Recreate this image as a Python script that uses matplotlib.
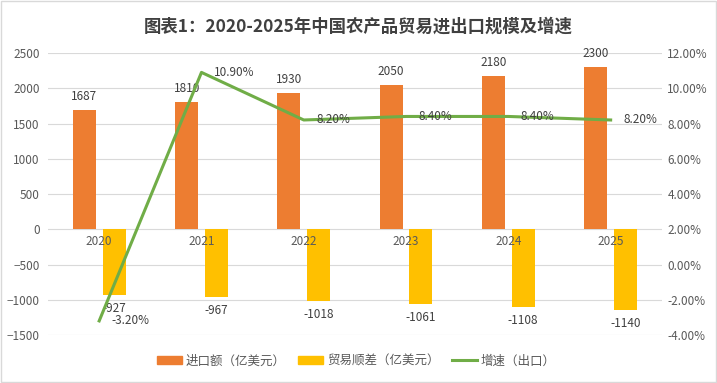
import numpy as np
import matplotlib
matplotlib.use("Agg")
import matplotlib.pyplot as plt
from matplotlib.patches import Rectangle
from matplotlib.lines import Line2D
from matplotlib.patches import Patch

plt.rcParams['font.family'] = ['Noto Sans CJK SC', 'DejaVu Sans']

# data
years = ['2020', '2021', '2022', '2023', '2024', '2025']
imports = [1687, 1810, 1930, 2050, 2180, 2300]
surplus = [-927, -967, -1018, -1061, -1108, -1140]
growth = [-3.2, 10.9, 8.2, 8.4, 8.4, 8.2]

title = '图表1：2020-2025年中国农产品贸易进出口规模及增速'
names = ['进口额（亿美元）', '贸易顺差（亿美元）', '增速（出口）']

c_orange = '#ED7D31'
c_yellow = '#FFC000'
c_green = '#70AD47'
c_grid = '#D9D9D9'
c_tick = '#595959'
c_lab = '#404040'

fig = plt.figure(figsize=(7.17, 3.83), dpi=100)
ax = fig.add_axes([0.067, 0.1253, 0.856, 0.7363])
ax2 = ax.twinx()

x = np.arange(len(years))
w = 0.225
off = 0.145
ax.bar(x - off, imports, w, color=c_orange, zorder=2)
ax.bar(x + off, surplus, w, color=c_yellow, zorder=2)

ax.set_xlim(-0.5, len(years) - 0.5)
ax.set_ylim(-1500, 2500)
ax.set_yticks(np.arange(-1500, 2501, 500))
ax.grid(axis='y', color=c_grid, linewidth=0.8, zorder=0)
ax.set_xticks([])
for s in ax.spines.values():
    s.set_visible(False)
ax.tick_params(axis='y', length=0, labelsize=8.5, labelcolor=c_tick, pad=6)

for i, v in enumerate(imports):
    ax.annotate(str(v), (x[i] - off, v), xytext=(0, 5), textcoords='offset points',
                ha='center', va='bottom', fontsize=8.5, color=c_lab)
for i, v in enumerate(surplus):
    ax.annotate(str(v), (x[i] + off, v), xytext=(0, -5), textcoords='offset points',
                ha='center', va='top', fontsize=8.5, color=c_lab)
for i, y in enumerate(years):
    ax.annotate(y, (x[i], 0), xytext=(0, -4), textcoords='offset points',
                ha='center', va='top', fontsize=8.5, color=c_tick)

ax2.plot(x, growth, color=c_green, linewidth=2.2, zorder=3)
ax2.set_ylim(-4, 12)
ax2.set_yticks(np.arange(-4, 12.1, 2))
ax2.set_yticklabels([f'{t:.2f}%' for t in np.arange(-4, 12.1, 2)])
for s in ax2.spines.values():
    s.set_visible(False)
ax2.tick_params(axis='y', length=0, labelsize=8.5, labelcolor=c_tick, pad=4)
for i, v in enumerate(growth):
    ax2.annotate(f'{v:.2f}%', (x[i], v), xytext=(9, 0), textcoords='offset points',
                 ha='left', va='center', fontsize=8.5, color=c_lab)

fig.text(0.5, 0.93, title, ha='center', va='center', fontsize=12.5,
         fontweight='bold', color='#404040')

handles = [Patch(color=c_orange), Patch(color=c_yellow),
           Line2D([], [], color=c_green, linewidth=2.2)]
fig.legend(handles, names, loc='center', bbox_to_anchor=(0.497, 0.057), ncol=3,
           frameon=False, fontsize=9, handlelength=2.0, handleheight=0.6,
           columnspacing=1.0, handletextpad=0.3, labelcolor=c_tick)

fig.patches.append(Rectangle((0.002, 0.003), 0.996, 0.994, transform=fig.transFigure,
                             fill=False, edgecolor=c_grid, linewidth=1))

fig.savefig('out.png', dpi=100)
